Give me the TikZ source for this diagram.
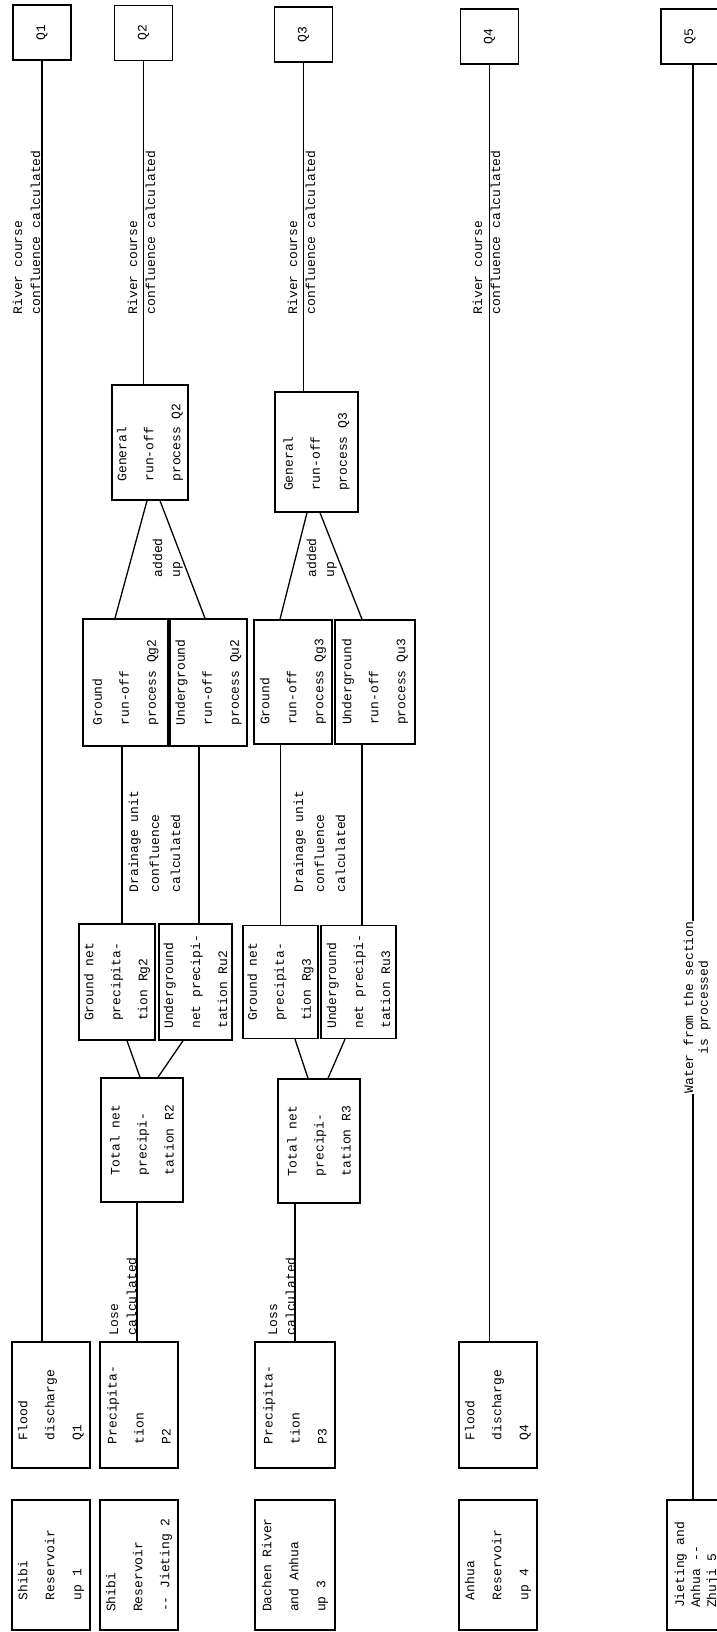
\documentclass[tikz,border=0pt]{standalone}
\usepackage{fontspec}
\setmainfont{Liberation Mono}
\usetikzlibrary{positioning}

\begin{document}
\begin{tikzpicture}[x=1pt, y=1pt, line width=1.3pt,
    box/.style={draw, line width=1.5pt, align=left, inner sep=2pt, font=\fontsize{13}{27}\selectfont},
    qbox/.style={draw, line width=1.5pt, minimum width=55pt, minimum height=58pt, font=\fontsize{13}{16}\selectfont},
    note/.style={align=left, inner sep=0pt, font=\fontsize{13}{18}\selectfont}]
  \begin{scope}[rotate=90, transform shape]
  \useasboundingbox (0, -717) rectangle (1632, 0);
  % sources
  \node[box, minimum width=130pt, minimum height=78pt] (a1) at (67, -51) {Shibi\\Reservoir\\up 1};
  \node[box, minimum width=130pt, minimum height=78pt] (b1) at (67, -139) {Shibi\\Reservoir\\-{}- Jieting 2};
  \node[box, minimum width=130pt, minimum height=80pt] (c1) at (67, -295) {Dachen River\\and Anhua\\up 3};
  \node[box, minimum width=130pt, minimum height=78pt] (d1) at (67, -498) {Anhua\\Reservoir\\up 4};
  \node[box, minimum width=130pt, minimum height=60pt, anchor=north, font=\fontsize{13}{16}\selectfont] (e1) at (67, -666) {Jieting and\\Anhua -{}-\\Zhuji 5};
  \node[box, minimum width=126pt, minimum height=78pt] (a2) at (227, -51) {Flood\\discharge\\Q1};
  \node[box, minimum width=126pt, minimum height=78pt] (b2) at (227, -139) {Precipita-\\tion\\P2};
  \node[box, minimum width=126pt, minimum height=80pt] (c2) at (227, -295) {Precipita-\\tion\\P3};
  \node[box, minimum width=126pt, minimum height=78pt] (d2) at (227, -498) {Flood\\discharge\\Q4};
  % net precipitation
  \node[box, minimum width=124pt, minimum height=82pt] (r2) at (492, -142) {Total net\\precipi-\\tation R2};
  \node[box, minimum width=124pt, minimum height=82pt] (r3) at (491, -319) {Total net\\precipi-\\tation R3};
  \node[box, minimum width=116pt, minimum height=76pt] (rg2) at (650, -117) {Ground net\\precipita-\\tion Rg2};
  \node[box, minimum width=116pt, minimum height=73pt] (ru2) at (650, -195.5) {Underground\\net precipi-\\tation Ru2};
  \node[box, minimum width=113pt, minimum height=75pt] (rg3) at (650, -280.5) {Ground net\\precipita-\\tion Rg3};
  \node[box, minimum width=113pt, minimum height=75pt] (ru3) at (650, -358.5) {Underground\\net precipi-\\tation Ru3};
  % run-off
  \node[box, minimum width=127pt, minimum height=85pt] (qg2) at (949.5, -125.5) {Ground\\run-off\\process Qg2};
  \node[box, minimum width=127pt, minimum height=77pt] (qu2) at (949.5, -208.5) {Underground\\run-off\\process Qu2};
  \node[box, minimum width=124pt, minimum height=78pt] (qg3) at (950, -293) {Ground\\run-off\\process Qg3};
  \node[box, minimum width=124pt, minimum height=80pt] (qu3) at (950, -375) {Underground\\run-off\\process Qu3};
  \node[box, minimum width=115pt, minimum height=76pt] (g2) at (1189.5, -150) {General\\run-off\\process Q2};
  \node[box, minimum width=120pt, minimum height=83pt] (g3) at (1180, -316.5) {General\\run-off\\process Q3};
  % outlets
  \node[qbox] (q1) at (1599.5, -42) {Q1};
  \node[qbox] (q2) at (1599, -143.5) {Q2};
  \node[qbox] (q3) at (1597.5, -303.5) {Q3};
  \node[qbox] (q4) at (1595.5, -489.5) {Q4};
  \node[qbox] (q5) at (1595.5, -690) {Q5};
  % labels
  \node[note, anchor=south west] (lose) at (296, -137) {Lose\\calculated};
  \node[note, anchor=south west] (loss) at (296, -296) {Loss\\calculated};
  \node[note, anchor=north west, font=\fontsize{13}{21}\selectfont] (drain2) at (739, -128) {Drainage unit\\confluence\\calculated};
  \node[note, anchor=north west, font=\fontsize{13}{21}\selectfont] (drain3) at (739, -293) {Drainage unit\\confluence\\calculated};
  \node[note, anchor=north west] (add2) at (1054, -152) {added\\up};
  \node[note, anchor=north west] (add3) at (1054, -306) {added\\up};
  \node[note, anchor=north west] (river1) at (1317, -12) {River course\\confluence calculated};
  \node[note, anchor=north west] (river2) at (1317, -127) {River course\\confluence calculated};
  \node[note, anchor=north west] (river3) at (1317, -287) {River course\\confluence calculated};
  \node[note, anchor=north west] (river4) at (1317, -472) {River course\\confluence calculated};
  \node[note, anchor=base west] (water) at (538, -693) {Water from the section};
  \node[note, below=4pt of water] (proc) {is processed};
  % connectors
  \draw (q1.west) -- (q1.west -| a2.east);
  \draw ([yshift=2pt]b2.east) -- ([yshift=2pt]b2.east -| r2.west);
  \draw (c2.east) -- (c2.east -| r3.west);
  \draw ([yshift=2pt]r2.east) -- ([yshift=-10pt]rg2.west);
  \draw ([yshift=-16pt]r2.east) -- ([yshift=12.5pt]ru2.west);
  \draw ([yshift=11pt]r3.east) -- ([yshift=-14.5pt]rg3.west);
  \draw ([yshift=-9pt]r3.east) -- ([yshift=13.5pt]ru3.west);
  \draw ([yshift=-5pt]rg2.east) -- ([yshift=-5pt]rg2.east -| qg2.west);
  \draw ([yshift=-3.5pt]ru2.east) -- ([yshift=-3.5pt]ru2.east -| qu2.west);
  \draw (rg3.east) -- (rg3.east -| qg3.west);
  \draw ([yshift=-3.5pt]ru3.east) -- ([yshift=-3.5pt]ru3.east -| qu3.west);
  \draw ([yshift=10.5pt]qg2.east) -- ([yshift=3pt]g2.west);
  \draw ([yshift=3.5pt]qu2.east) -- ([yshift=-10pt]g2.west);
  \draw ([yshift=13pt]qg3.east) -- ([yshift=9.5pt]g3.west);
  \draw ([yshift=13pt]qu3.east) -- ([yshift=-3.5pt]g3.west);
  \draw (q2.west) -- (q2.west -| g2.east);
  \draw (q3.west) -- (q3.west -| g3.east);
  \draw (q4.west) -- (q4.west -| d2.east);
  \draw (water.base west) -- (water.base west -| e1.east);
  \draw (water.base east) -- (water.base east -| q5.west);
  \end{scope}
\end{tikzpicture}
\end{document}
